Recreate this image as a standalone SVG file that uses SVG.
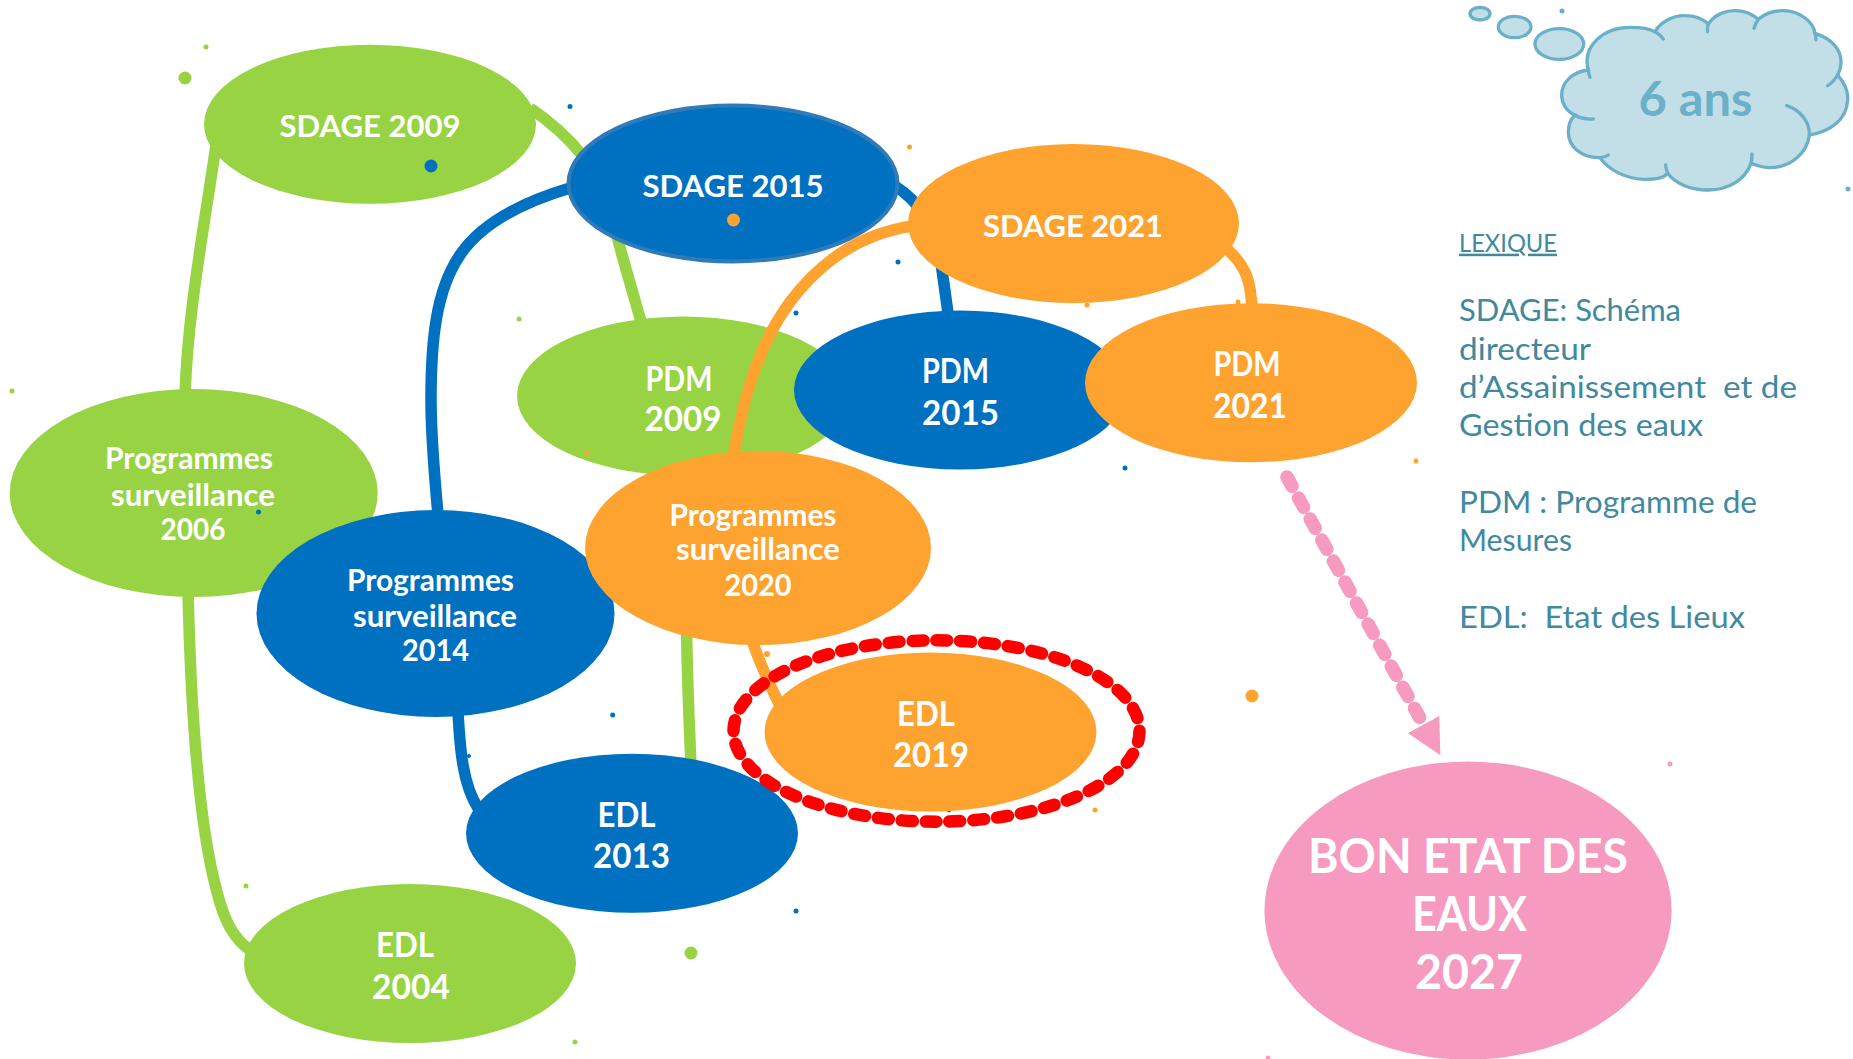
<svg xmlns="http://www.w3.org/2000/svg" width="1853" height="1059" viewBox="0 0 1853 1059">
<style>
text{font-family:"Lato","Open Sans","Noto Sans",sans-serif;white-space:pre}
.n{fill:#fff;font-weight:700;text-anchor:middle}
.s{font-size:31px}.p{font-size:34px}.g{font-size:29.500px}.b{font-size:48px}
.lx{fill:#41899f;font-size:31px}
.green{fill:#98d343}.blue{fill:#0070c0}.orange{fill:#ffa330}.pink{fill:#f69ac0}.teal{fill:#6bafc9}
.c{fill:none;stroke-width:11.500;stroke-linecap:butt}
.cg{stroke:#98d343}.cb{stroke:#0070c0}.co{stroke:#ffa330}
</style>
<defs>
<marker id="arrowhead" markerUnits="userSpaceOnUse" viewBox="0 0 35 36" refX="0" refY="18" markerWidth="35" markerHeight="36" orient="auto"><path d="M0 0L35 18L0 36Z" fill="#f69ac0"/></marker>
</defs>
<rect width="1853" height="1059" fill="#fff"/>

<g id="node-sdage-2009"><ellipse class="green" cx="370" cy="124.200" rx="166" ry="79.500"/><text class="n s" x="370" y="137" textLength="181" lengthAdjust="spacingAndGlyphs">SDAGE 2009</text></g>
<g id="node-pdm-2009"><ellipse class="green" cx="683" cy="396" rx="166" ry="79.500"/><text class="n p" x="679" y="391" textLength="67" lengthAdjust="spacingAndGlyphs">PDM</text><text class="n p" x="683" y="431" textLength="77" lengthAdjust="spacingAndGlyphs">2009</text></g>
<g id="node-programmes-2006"><ellipse class="green" cx="193.700" cy="493" rx="184" ry="104"/><text class="n g" x="189" y="469" textLength="168" lengthAdjust="spacingAndGlyphs">Programmes</text><text class="n g" x="193" y="505.500" textLength="164" lengthAdjust="spacingAndGlyphs">surveillance</text><text class="n g" x="193" y="540" textLength="65" lengthAdjust="spacingAndGlyphs">2006</text></g>
<g id="node-edl-2004"><ellipse class="green" cx="410" cy="963.500" rx="166" ry="79.500"/><text class="n p" x="405" y="956.500" textLength="58" lengthAdjust="spacingAndGlyphs">EDL</text><text class="n p" x="411" y="998.500" textLength="78" lengthAdjust="spacingAndGlyphs">2004</text></g>

<g id="connectors-lower">
<path class="c cg" d="M216 145C203 235 188 310 185 395"/>
<path class="c cg" d="M188 590C191 720 200 830 217 892C224 920 233 938 250 950"/>
<path class="c cg" d="M530 108C555 125 570 140 582 155C600 180 612 215 622 255L642 325"/>
<path class="c cg" d="M686 600C687 680 689 720 691 765"/>
<path class="c cb" d="M570 188C520 203 480 225 460 255C436 290 431 340 431 400C431 440 435 480 438 515"/>
<path class="c cb" d="M458 712C460 750 463 785 478 808"/>
<path class="c cb" d="M895 186C925 205 938 235 942 270L949 320"/>
</g>

<g id="node-sdage-2015"><ellipse class="blue" cx="733" cy="183.500" rx="164.500" ry="78" stroke="#2f7ab9" stroke-width="4"/><text class="n s" x="733" y="197" textLength="181" lengthAdjust="spacingAndGlyphs">SDAGE 2015</text></g>
<g id="node-pdm-2015"><ellipse class="blue" cx="960" cy="390" rx="166" ry="79.500"/><text class="n p" x="955.500" y="383" textLength="67" lengthAdjust="spacingAndGlyphs">PDM</text><text class="n p" x="960.500" y="425" textLength="77" lengthAdjust="spacingAndGlyphs">2015</text></g>
<g id="node-programmes-2014"><ellipse class="blue" cx="435.500" cy="613.500" rx="179" ry="103.500"/><text class="n g" x="430.500" y="591" textLength="167" lengthAdjust="spacingAndGlyphs">Programmes</text><text class="n g" x="435" y="626.500" textLength="164" lengthAdjust="spacingAndGlyphs">surveillance</text><text class="n g" x="435.500" y="661" textLength="67" lengthAdjust="spacingAndGlyphs">2014</text></g>
<g id="node-edl-2013"><ellipse class="blue" cx="632" cy="833.300" rx="166" ry="79.500"/><text class="n p" x="626.500" y="826.500" textLength="58" lengthAdjust="spacingAndGlyphs">EDL</text><text class="n p" x="631.500" y="867.500" textLength="77" lengthAdjust="spacingAndGlyphs">2013</text></g>

<g id="connectors-upper">
<path class="c co" d="M912 226C860 234 820 262 790 302C758 345 742 400 733 460"/>
<path class="c co" d="M1228 250C1248 268 1251 285 1252 310"/>
<path class="c co" d="M752 640C760 665 770 685 782 710"/>
<path d="M1287 477L1423.500 724.500" fill="none" stroke="#f69ac0" stroke-width="13.500" stroke-linecap="round" stroke-dasharray="10.500 13.500" marker-end="url(#arrowhead)"/>
</g>

<circle class="blue" cx="949" cy="810.500" r="2"/>

<g id="node-sdage-2021"><ellipse class="orange" cx="1073.500" cy="223.500" rx="165.500" ry="79.500"/><text class="n s" x="1073" y="237" textLength="180" lengthAdjust="spacingAndGlyphs">SDAGE 2021</text></g>
<g id="node-pdm-2021"><ellipse class="orange" cx="1251" cy="382.700" rx="166" ry="79.500"/><text class="n p" x="1247" y="375.500" textLength="67" lengthAdjust="spacingAndGlyphs">PDM</text><text class="n p" x="1250" y="417.500" textLength="74" lengthAdjust="spacingAndGlyphs">2021</text></g>
<g id="node-programmes-2020"><ellipse class="orange" cx="758" cy="548" rx="173" ry="97"/><text class="n g" x="753" y="526" textLength="167" lengthAdjust="spacingAndGlyphs">Programmes</text><text class="n g" x="758" y="560" textLength="164" lengthAdjust="spacingAndGlyphs">surveillance</text><text class="n g" x="758" y="596" textLength="67" lengthAdjust="spacingAndGlyphs">2020</text></g>
<g id="node-edl-2019"><ellipse class="orange" cx="930.500" cy="732" rx="166" ry="79.500"/><text class="n p" x="926" y="725.500" textLength="58" lengthAdjust="spacingAndGlyphs">EDL</text><text class="n p" x="931" y="766.500" textLength="76" lengthAdjust="spacingAndGlyphs">2019</text>
<ellipse cx="936.500" cy="731" rx="203" ry="90.700" fill="none" stroke="#ff0000" stroke-width="12.500" stroke-linecap="round" stroke-dasharray="11 12.900"/></g>
<g id="node-bon-etat"><ellipse class="pink" cx="1468" cy="910.500" rx="203.500" ry="149"/><text class="n b" x="1468" y="873" textLength="320" lengthAdjust="spacingAndGlyphs">BON ETAT DES</text><text class="n b" x="1469.500" y="930.500" textLength="115" lengthAdjust="spacingAndGlyphs">EAUX</text><text class="n b" x="1469" y="989" textLength="108" lengthAdjust="spacingAndGlyphs">2027</text></g>

<g id="node-cloud">
<g transform="translate(1400 0) scale(.33333)" fill="#c2dfe8" stroke="#6bafc9" stroke-width="10" stroke-linecap="round">
<ellipse cx="240" cy="41" rx="30" ry="19"/>
<ellipse cx="344" cy="81" rx="49" ry="32"/>
<ellipse cx="478" cy="132" rx="73" ry="46"/>
<path d="M565 210C545 140 610 80 695 82C725 82 750 88 765 95C785 60 830 45 855 47C885 47 910 58 925 72C945 40 985 30 1010 32C1040 33 1060 45 1075 58C1095 40 1125 32 1150 32C1200 33 1240 65 1245 100C1295 115 1325 150 1323 190C1322 205 1318 215 1313 225C1335 250 1345 275 1343 300C1340 360 1290 395 1228 405C1222 460 1170 503 1110 503C1090 503 1070 497 1053 490C1035 540 985 570 925 570C870 570 825 550 803 520C790 535 770 538 735 538C680 538 625 510 600 473C545 475 505 440 505 395C505 375 512 358 525 345C500 335 485 310 485 285C485 245 520 215 565 210Z"/>
<path fill="none" d="M765 95C775 100 785 110 790 117M925 72C922 80 922 88 923 95M1075 58C1070 65 1065 75 1062 85M1245 100C1247 105 1248 112 1248 120M1313 225C1305 238 1295 250 1283 257M1228 405C1230 365 1200 330 1160 317M1053 490C1055 480 1056 470 1056 462M803 520C800 512 798 505 797 495M600 473C610 472 618 470 625 465M525 345C540 355 560 358 580 357M565 210C565 215 567 225 570 232"/>
</g>
<text x="1695.500" y="115.500" text-anchor="middle" font-size="47" font-weight="700" fill="#6bafc9" textLength="114" lengthAdjust="spacingAndGlyphs">6 ans</text>
</g>

<g id="lexique">
<text class="lx" x="1459" y="251.700" style="font-size:25px;text-decoration:underline" textLength="98" lengthAdjust="spacingAndGlyphs">LEXIQUE</text>
<text class="lx" x="1459" y="320.700" textLength="222" lengthAdjust="spacingAndGlyphs">SDAGE: Schéma</text>
<text class="lx" x="1459" y="360" textLength="132" lengthAdjust="spacingAndGlyphs">directeur</text>
<text class="lx" x="1459" y="398" textLength="338" lengthAdjust="spacingAndGlyphs">d’Assainissement  et de</text>
<text class="lx" x="1459" y="435.700" textLength="244" lengthAdjust="spacingAndGlyphs">Gestion des eaux</text>
<text class="lx" x="1459" y="512.700" textLength="298" lengthAdjust="spacingAndGlyphs">PDM : Programme de</text>
<text class="lx" x="1459" y="550.700" textLength="113" lengthAdjust="spacingAndGlyphs">Mesures</text>
<text class="lx" x="1459" y="627.500" textLength="286" lengthAdjust="spacingAndGlyphs">EDL:  Etat des Lieux</text>
</g>

<g id="dots">
<circle class="green" cx="185" cy="78" r="6.500"/><circle class="green" cx="206" cy="47" r="2.500"/><circle class="green" cx="519" cy="319" r="2.500"/><circle class="green" cx="12" cy="391" r="2.500"/><circle class="green" cx="246" cy="886" r="2.500"/><circle class="green" cx="575" cy="1042" r="2.500"/><circle class="green" cx="691" cy="953" r="6.500"/>
<circle class="blue" cx="431" cy="166" r="6.500"/><circle class="blue" cx="570" cy="106.500" r="2.500"/><circle class="blue" cx="796" cy="313" r="2.500"/><circle class="blue" cx="898" cy="262" r="2.500"/><circle class="blue" cx="1125" cy="468" r="2.500"/><circle class="blue" cx="258.500" cy="512" r="2.500"/><circle class="blue" cx="612.700" cy="715" r="2.500"/><circle class="blue" cx="469" cy="756" r="2"/><circle class="blue" cx="796" cy="911" r="2.500"/>
<circle class="orange" cx="733.500" cy="220" r="6.500"/><circle class="orange" cx="909.500" cy="147" r="2.500"/><circle class="orange" cx="587.500" cy="453" r="2.500"/><circle class="orange" cx="1087" cy="305" r="2.500"/><circle class="orange" cx="1238" cy="302" r="2.500"/><circle class="orange" cx="1416" cy="461" r="2.500"/><circle class="orange" cx="1095" cy="810" r="2.500"/><circle class="orange" cx="1252" cy="696" r="6.500"/><circle class="orange" cx="767" cy="654" r="3"/>
<circle class="pink" cx="1670" cy="764" r="2.500"/><circle class="pink" cx="1268" cy="1058" r="2.500"/>
<circle class="teal" cx="1562" cy="11" r="2.500"/><circle class="teal" cx="1848" cy="189" r="2.500"/>
</g>
</svg>
